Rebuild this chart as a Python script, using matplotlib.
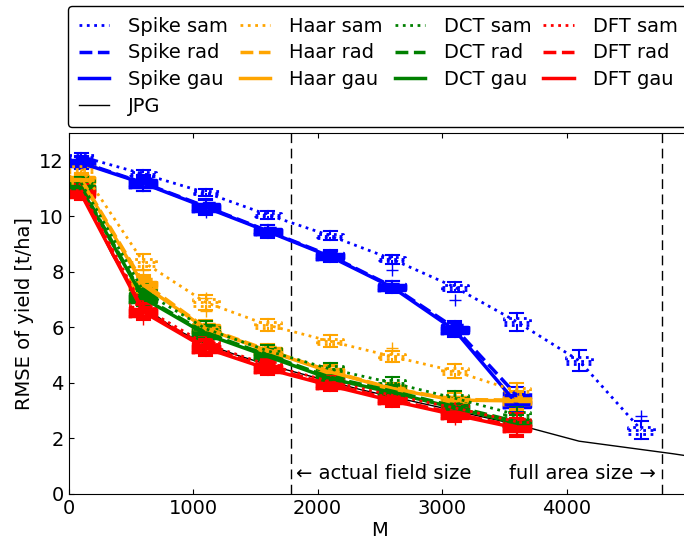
import matplotlib
matplotlib.use("Agg")
import matplotlib.pyplot as plt
from matplotlib.lines import Line2D

# sample sizes M where the boxes sit
M = [100, 600, 1100, 1600, 2100, 2600, 3100, 3600]
M_long = [100, 600, 1100, 1600, 2100, 2600, 3100, 3600, 4100, 4600]

# medians of RMSE of yield [t/ha]
spike_sam = [12.15, 11.52, 10.85, 10.05, 9.3, 8.45, 7.45, 6.2, 4.8, 2.3]
spike_rad = [11.95, 11.2, 10.35, 9.47, 8.58, 7.47, 5.98, 3.55]
spike_gau = [11.92, 11.18, 10.32, 9.45, 8.55, 7.44, 5.9, 3.25]
haar_sam = [11.7, 8.35, 6.9, 6.08, 5.5, 4.95, 4.42, 3.7]
haar_rad = [11.35, 7.6, 5.98, 5.18, 4.42, 3.8, 3.4, 3.38]
haar_gau = [11.3, 7.52, 5.95, 5.15, 4.4, 3.78, 3.38, 3.35]
dct_sam = [11.2, 7.3, 5.95, 5.15, 4.5, 4.0, 3.45, 2.85]
dct_rad = [11.05, 7.1, 5.8, 5.0, 4.2, 3.7, 3.15, 2.6]
dct_gau = [11.0, 7.05, 5.75, 4.95, 4.15, 3.65, 3.1, 2.55]
dft_sam = [10.95, 6.7, 5.4, 4.65, 4.05, 3.55, 3.1, 2.6]
dft_rad = [10.85, 6.6, 5.3, 4.55, 3.95, 3.4, 2.9, 2.42]
dft_gau = [10.8, 6.55, 5.25, 4.5, 3.9, 3.35, 2.85, 2.37]

# box heights (IQR) and whisker reach beyond the box
spike_sam_iqr = [0.12, 0.15, 0.12, 0.15, 0.15, 0.15, 0.18, 0.25, 0.25, 0.25]
spike_sam_whis = [0.06, 0.08, 0.06, 0.08, 0.08, 0.08, 0.1, 0.2, 0.25, 0.2]
box_iqr = [0.2, 0.25, 0.25, 0.2, 0.18, 0.18, 0.2, 0.22]
box_whis = [0.12, 0.15, 0.15, 0.12, 0.12, 0.12, 0.15, 0.2]

# outliers (label, M, value)
fliers = [("Spike sam", 2600, 8.05), ("Spike sam", 3100, 7.0),
          ("Spike sam", 4600, 2.8), ("Haar sam", 600, 8.05),
          ("Haar sam", 1100, 6.6), ("Haar sam", 1100, 7.05),
          ("Haar sam", 2600, 5.25), ("DFT gau", 600, 6.3),
          ("Spike gau", 1100, 10.15), ("DFT gau", 3100, 2.7)]

# JPG reference curve
jpg_M = [0, 100, 350, 600, 850, 1100, 1350, 1600, 1850, 2100, 2350, 2600, 2850,
         3100, 3350, 3600, 3850, 4100, 4350, 4600, 4850, 5000]
jpg_rmse = [11.2, 10.9, 8.6, 6.75, 5.95, 5.4, 5.0, 4.65, 4.35, 4.05, 3.75, 3.5,
            3.25, 3.0, 2.75, 2.5, 2.2, 1.9, 1.75, 1.6, 1.45, 1.35]

series = [
    ("Spike sam", "blue", ":", M_long, spike_sam),
    ("Spike rad", "blue", "--", M, spike_rad),
    ("Spike gau", "blue", "-", M, spike_gau),
    ("Haar sam", "orange", ":", M, haar_sam),
    ("Haar rad", "orange", "--", M, haar_rad),
    ("Haar gau", "orange", "-", M, haar_gau),
    ("DCT sam", "green", ":", M, dct_sam),
    ("DCT rad", "green", "--", M, dct_rad),
    ("DCT gau", "green", "-", M, dct_gau),
    ("DFT sam", "red", ":", M, dft_sam),
    ("DFT rad", "red", "--", M, dft_rad),
    ("DFT gau", "red", "-", M, dft_gau),
]

plt.rcParams["font.family"] = "DejaVu Sans"
plt.rcParams["font.size"] = 14
plt.rcParams["xtick.direction"] = "in"
plt.rcParams["ytick.direction"] = "in"
plt.rcParams["xtick.top"] = True
plt.rcParams["ytick.right"] = True

fig = plt.figure(figsize=(6.84, 5.47), dpi=100)
ax = fig.add_axes([0.1004, 0.097, 0.91, 0.66])

ax.plot(jpg_M, jpg_rmse, color="black", lw=1, zorder=1)

handles = []
for label, c, ls, pos, med in series:
    if label == "Spike sam":
        iqr, whis = spike_sam_iqr, spike_sam_whis
    else:
        iqr, whis = box_iqr, box_whis
    stats = []
    for i, (m, v) in enumerate(zip(pos, med)):
        q1 = v - iqr[i] / 2
        q3 = v + iqr[i] / 2
        fl = [f[2] for f in fliers if f[0] == label and f[1] == m]
        stats.append(dict(med=v, q1=q1, q3=q3, whislo=q1 - whis[i],
                          whishi=q3 + whis[i], fliers=fl))
    lw = 2 if ls == ":" else 2.5
    ax.bxp(stats, positions=pos, widths=210, manage_ticks=False,
           boxprops=dict(color=c, linestyle=ls, lw=lw),
           whiskerprops=dict(color=c, lw=1.5),
           capprops=dict(color=c, lw=1.5),
           medianprops=dict(color=c, linestyle=ls, lw=lw),
           flierprops=dict(marker="+", markeredgecolor=c, markersize=9))
    ax.plot(pos, med, color=c, linestyle=ls, lw=lw, zorder=3)
    handles.append(Line2D([], [], color=c, linestyle=ls, lw=lw, label=label))

handles.insert(3, Line2D([], [], color="black", lw=1, label="JPG"))

# field size markers
ax.axvline(1785, color="black", lw=1, linestyle=(0, (7, 4)))
ax.axvline(4765, color="black", lw=1, linestyle=(0, (7, 4)))
ax.text(1830, 0.72, "\u2190 actual field size", va="center", ha="left")
ax.text(4720, 0.72, "full area size \u2192", va="center", ha="right")

ax.set_xlim(0, 5000)
ax.set_ylim(0, 13)
ax.set_xticks([0, 1000, 2000, 3000, 4000])
ax.set_yticks([0, 2, 4, 6, 8, 10, 12])
ax.set_xlabel("M", labelpad=2)
ax.set_ylabel("RMSE of yield [t/ha]")

fig.legend(handles=handles, loc="upper left",
           bbox_to_anchor=(68 / 684, 1 - 6 / 547), ncol=4,
           handlelength=1.55, handletextpad=1.0, columnspacing=0.6,
           labelspacing=0.4, borderpad=0.55, borderaxespad=0, framealpha=1,
           edgecolor="black")

fig.savefig("out.png", dpi=100)
